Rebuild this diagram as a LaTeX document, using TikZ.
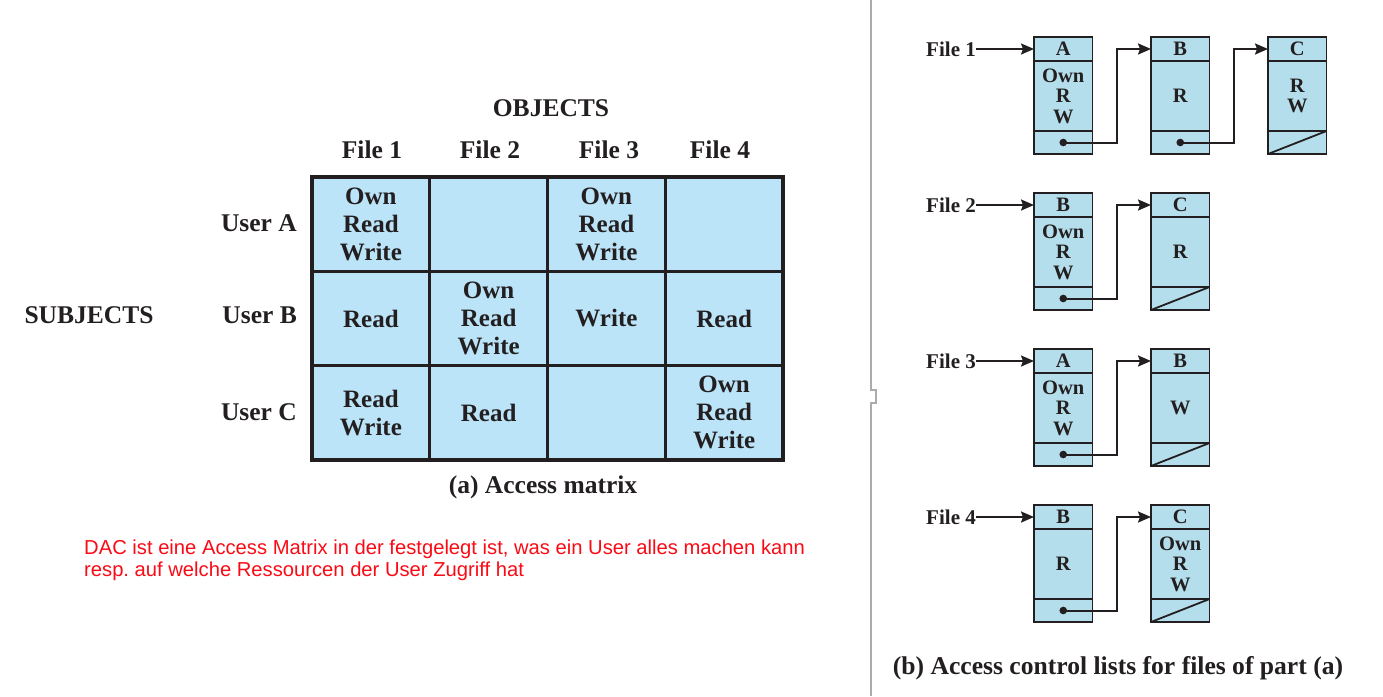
\documentclass[tikz,border=0pt]{standalone}
\usepackage{fontspec}
\usepackage{tikz}
\usetikzlibrary{positioning,arrows.meta}
\setmainfont{Liberation Serif}
\newfontfamily\notefont{Liberation Sans}
\frenchspacing

\definecolor{ink}{HTML}{231F20}
\definecolor{cellblue}{RGB}{187,228,248}
\definecolor{aclblue}{RGB}{181,222,236}
\definecolor{rulegray}{RGB}{172,172,172}
\definecolor{notered}{RGB}{250,10,20}

\tikzset{
  cell/.style={draw=ink, fill=cellblue, line width=2.6pt, outer sep=0pt, inner sep=0pt,
    minimum width=117.75pt, minimum height=94.3pt, align=center, text=ink,
    font=\fontsize{25}{28}\selectfont\bfseries},
  head/.style={text=ink, inner sep=0pt, font=\fontsize{25.5}{28}\selectfont\bfseries},
  aclcell/.style={draw=ink, fill=aclblue, line width=1.8pt, outer sep=0pt, inner sep=0pt,
    minimum width=58.5pt, align=center, text=ink,
    font=\fontsize{20.5}{20.5}\selectfont\bfseries},
  filelabel/.style={text=ink, inner sep=0pt, anchor=east, font=\fontsize{21}{21}\selectfont\bfseries},
  link/.style={draw=ink, line width=2pt, -{Stealth[length=13pt,width=11pt,inset=2pt]}},
}

\begin{document}
\begin{tikzpicture}[x=1pt, y=-1pt]
  \useasboundingbox (0,0) rectangle (1383,696);

  % ----- (a) access matrix -----
  \node[head] (objects) at (551,108) {OBJECTS};
  \node[head] (subjects) at (89,315) {SUBJECTS};

  \node[cell] (uA1) at (370.9,224.2) {Own\\Read\\Write};
  \node[cell, right=0pt of uA1] (uA2) {};
  \node[cell, right=0pt of uA2] (uA3) {Own\\Read\\Write};
  \node[cell, right=0pt of uA3] (uA4) {};
  \node[cell, below=0pt of uA1] (uB1) {Read};
  \node[cell, right=0pt of uB1] (uB2) {Own\\Read\\Write};
  \node[cell, right=0pt of uB2] (uB3) {Write};
  \node[cell, right=0pt of uB3] (uB4) {Read};
  \node[cell, below=0pt of uB1] (uC1) {Read\\Write};
  \node[cell, right=0pt of uC1] (uC2) {Read};
  \node[cell, right=0pt of uC2] (uC3) {};
  \node[cell, right=0pt of uC3] (uC4) {Own\\Read\\Write};
  % heavier outer frame
  \draw[ink, line width=3.6pt] (uA1.north west) rectangle (uC4.south east);

  % column and row headers
  \node[head] (file1) at (372,150) {File 1};
  \node[head] (file2) at (490,150) {File 2};
  \node[head] (file3) at (609,150) {File 3};
  \node[head] (file4) at (720,150) {File 4};
  \node[head, anchor=east] (userA) at (297,223) {User A};
  \node[head, anchor=east] (userB) at (297,315) {User B};
  \node[head, anchor=east] (userC) at (297,412) {User C};

  \node[head] (capa) at (543,487) {(a) Access matrix};

  % note in red
  \node[anchor=west, align=left, inner sep=0pt, text=notered,
    font=\notefont\fontsize{20.2}{22}\selectfont] (note) at (84,560)
    {DAC ist eine Access Matrix in der festgelegt ist, was ein User alles machen kann\\
     resp. auf welche Ressourcen der User Zugriff hat};

  % divider between the two parts
  \draw[rulegray, line width=2pt] (871,0) -- (871,390) -- (875.5,390) -- (875.5,403)
    -- (871,403) -- (871,696);

  % ----- (b) access control lists -----
  \foreach \n/\x/\y/\h/\b in {
      f1a/1063.25/37/A/{Own\\R\\W}, f1b/1180.25/37/B/R, f1c/1297.25/37/C/{R\\W},
      f2a/1063.25/193/B/{Own\\R\\W}, f2b/1180.25/193/C/R,
      f3a/1063.25/349/A/{Own\\R\\W}, f3b/1180.25/349/B/W,
      f4a/1063.25/505/B/R, f4b/1180.25/505/C/{Own\\R\\W}} {
    \node[aclcell, minimum height=24pt, anchor=north] (\n-h) at (\x,\y) {\h};
    \node[aclcell, minimum height=70pt, below=0pt of \n-h] (\n-b) {\b};
    \node[aclcell, minimum height=23pt, below=0pt of \n-b] (\n-f) {};
  }

  % file names pointing to the first entry
  \node[filelabel] (l1) at (976,49) {File 1};
  \node[filelabel] (l2) at (976,205) {File 2};
  \node[filelabel] (l3) at (976,361) {File 3};
  \node[filelabel] (l4) at (976,517) {File 4};
  \foreach \l/\t in {l1/f1a, l2/f2a, l3/f3a, l4/f4a}
    \draw[link] (\l.east) -- (\t-h.west);

  % pointers to next entry
  \foreach \s/\t in {f1a/f1b, f1b/f1c, f2a/f2b, f3a/f3b, f4a/f4b} {
    \fill[ink] (\s-f.center) circle (3.8pt);
    \draw[link] (\s-f.center) -- ++(54,0) |- (\t-h.west);
  }

  % end of list
  \foreach \e in {f1c, f2b, f3b, f4b}
    \draw[ink, line width=1.8pt] (\e-f.south west) -- (\e-f.north east);

  \node[head, font=\fontsize{25.6}{28}\selectfont\bfseries] (capb) at (1118,668)
    {(b) Access control lists for files of part (a)};
\end{tikzpicture}
\end{document}
